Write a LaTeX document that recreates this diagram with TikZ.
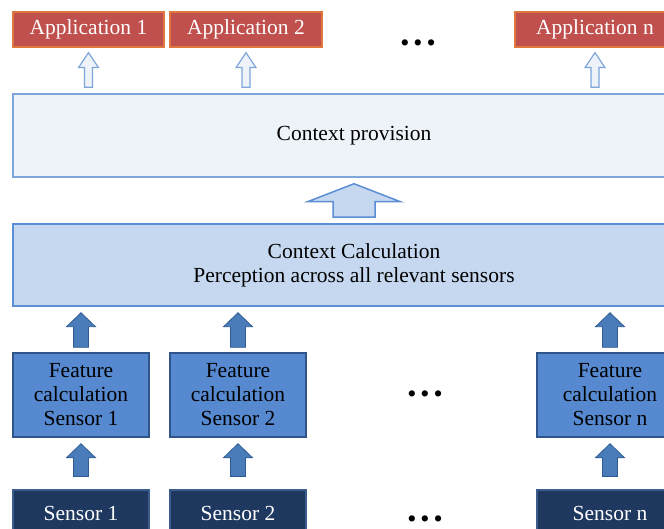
\documentclass[tikz,border=0pt]{standalone}
\usepackage{fontspec}
\setmainfont{Liberation Serif}
\usepackage{tikz}
\usetikzlibrary{calc}

\definecolor{appred}{RGB}{192,80,77}
\definecolor{appedge}{RGB}{222,120,62}
\definecolor{paleblue}{RGB}{238,243,250}
\definecolor{paleedge}{RGB}{126,166,218}
\definecolor{lightblue}{RGB}{198,216,240}
\definecolor{lightedge}{RGB}{91,142,212}
\definecolor{featblue}{RGB}{86,137,208}
\definecolor{featedge}{RGB}{46,84,138}
\definecolor{sensblue}{RGB}{31,56,96}
\definecolor{sensedge}{RGB}{60,92,140}
\definecolor{arrblue}{RGB}{74,124,186}
\definecolor{arredge}{RGB}{47,92,150}

% block arrow pointing up: style, bottom point, top point, shaft half width, head half width, head length
\newcommand{\blockup}[6]{%
	\draw[#1] let \p1=(#2), \p2=(#3) in (\x2-#4,\y1) -- (\x2-#4,\y2-#6) -- (\x2-#5,\y2-#6) -- (\x2,\y2) -- (\x2+#5,\y2-#6) -- (\x2+#4,\y2-#6) -- (\x2+#4,\y1) -- cycle;}
\newcommand{\threedots}{\textbullet\kern4pt\textbullet\kern4pt\textbullet}

\begin{document}
\begin{tikzpicture}[x=1pt,y=-1pt,
	every node/.style={font=\fontsize{21.5}{24}\selectfont,inner sep=0pt},
	app/.style={fill=appred,draw=appedge,line width=1.2pt,text=white,minimum height=35pt},
	layer/.style={line width=1.5pt,minimum width=682pt,align=center},
	feat/.style={fill=featblue,draw=featedge,line width=1.5pt,minimum height=84pt,align=center},
	sens/.style={fill=sensblue,draw=sensedge,line width=1.2pt,text=white,minimum height=46pt},
	hollowarr/.style={fill=paleblue,draw=paleedge,line width=1.2pt,line join=miter},
	bigarr/.style={fill=lightblue,draw=lightedge,line width=1.5pt,line join=miter},
	solidarr/.style={fill=arrblue,draw=arredge,line width=0.8pt,line join=miter},
	dotsrow/.style={font=\fontsize{26}{26}\selectfont,anchor=base,text depth=0pt}]
	\fill[white] (0,0) rectangle (664,529);
	\clip (0,0) rectangle (664,529);
	
	\node[app,minimum width=151pt] (app1) at (88.5,29.5) {Application 1};
	\node[app,minimum width=152pt] (app2) at (246,29.5) {Application 2};
	\node[app,minimum width=160pt] (appn) at (595,29.5) {Application n};
	\node[dotsrow] (dtop) at (418,52) {\threedots};
	
	\node[layer,fill=paleblue,draw=paleedge,minimum height=83pt] (cp) at (354,135.5) {Context provision};
	\node[layer,fill=lightblue,draw=lightedge,minimum height=82pt] (cc) at (354,265) {Context Calculation\\Perception across all relevant sensors};
	
	\node[feat,minimum width=136pt] (f1) at (81,395) {Feature\\calculation\\Sensor 1};
	\node[feat,minimum width=136pt] (f2) at (238,395) {Feature\\calculation\\Sensor 2};
	\node[feat,minimum width=146pt] (fn) at (610,395) {Feature\\calculation\\Sensor n};
	\node[dotsrow] (dmid) at (425,402) {\threedots};
	
	\node[sens,minimum width=136pt] (s1) at (81,513) {Sensor 1};
	\node[sens,minimum width=136pt] (s2) at (238,513) {Sensor 2};
	\node[sens,minimum width=146pt] (sn) at (610,513) {Sensor n};
	\node[dotsrow] (dbot) at (425,527) {\threedots};
	
	\foreach \a in {app1,app2,appn}{
		\blockup{hollowarr}{$(cp.north)+(0,-6)$}{$(\a.south)+(0,5)$}{4pt}{10pt}{15pt}
	}
	\blockup{bigarr}{$(cc.north)+(0,-6)$}{$(cp.south)+(0,6)$}{21pt}{46.5pt}{18pt}
	\foreach \f in {f1,f2,fn}{
		\blockup{solidarr}{$(\f.north)+(0,-5)$}{$(\f.north |- cc.south)+(0,6)$}{7.5pt}{14.5pt}{14pt}
	}
	\foreach \f/\s in {f1/s1,f2/s2,fn/sn}{
		\blockup{solidarr}{$(\s.north)+(0,-13)$}{$(\f.south)+(0,6)$}{7.5pt}{14.5pt}{14pt}
	}
\end{tikzpicture}
\end{document}
